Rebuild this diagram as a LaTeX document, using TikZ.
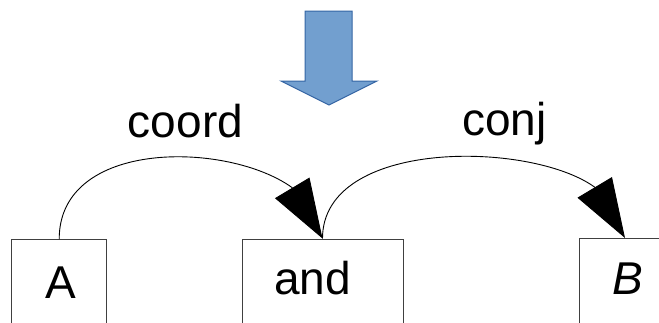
\documentclass[tikz,border=0pt]{standalone}
\usepackage{fontspec}
\setmainfont{Liberation Sans}
\usetikzlibrary{arrows.meta,calc}
\definecolor{arrowfill}{HTML}{729FCF}
\definecolor{arrowline}{HTML}{3465A4}
\definecolor{boxline}{HTML}{404040}
\tikzset{
  wordbox/.style={draw=boxline, line width=1pt, fill=white, inner sep=0pt,
    minimum height=130pt, anchor=north},
  word/.style={font=\fontsize{46}{50}\selectfont, inner sep=0pt, anchor=base},
  deplabel/.style={font=\fontsize{46}{50}\selectfont, inner sep=0pt, anchor=base},
  deparc/.style={draw=black, line width=0.9pt,
    -{Triangle[length=59pt, width=40pt]}},
  bigarrow/.style={fill=arrowfill, draw=arrowline, line width=1pt, line join=miter}
}
\begin{document}
\begin{tikzpicture}[x=1pt, y=-1pt]
  \clip (0,0) rectangle (659,322);

  % downward block arrow
  \path[bigarrow] (305,11) -- (352,11) -- (352,81) -- (377,81) -- (329,105)
    -- (281,81) -- (305,81) -- cycle;

  % word boxes (they run past the lower edge)
  \node[wordbox, minimum width=95pt] (A) at (59.2,239) {};
  \node[wordbox, minimum width=161pt] (and) at (322.5,238.5) {};
  \node[wordbox, minimum width=92pt] (B) at (625,238) {};

  % words
  \node[word] (wA) at (61,298) {A};
  \node[word] (wand) at (312.5,294) {and};
  \node[word] (wB) at (627.5,294) {\itshape B};

  % dependency arcs
  \draw[deparc] (A.north) .. controls +(0,-100) and ($(and.north)+(-95.3,-97.4)$)
    .. ($(and.north)+(-30.5,-51)$) -- (and.north);
  \draw[deparc] (and.north) .. controls +(0,-100) and ($(B.north)+(-95.3,-97.4)$)
    .. ($(B.north)+(-30.5,-51)$) -- (B.north);

  % arc labels
  \node[deplabel] (lcoord) at (185.5,137) {coord};
  \node[deplabel] (lconj) at (504.5,135) {conj};
\end{tikzpicture}
\end{document}
